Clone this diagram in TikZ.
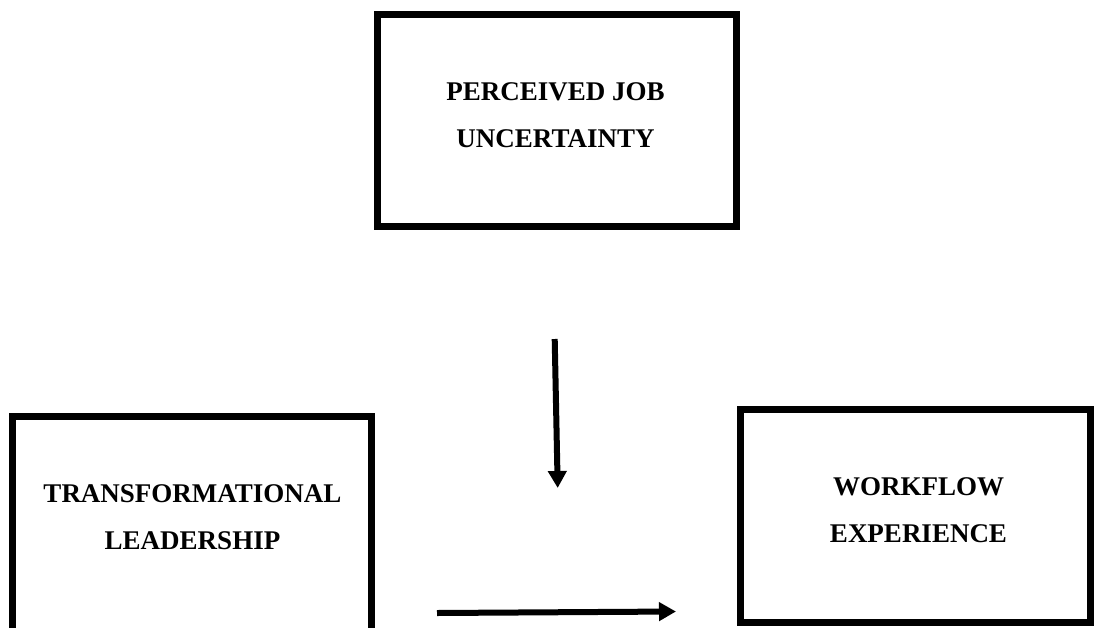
\documentclass[tikz,border=0pt]{standalone}
\usepackage{fontspec}
\setmainfont{Liberation Serif}
\usetikzlibrary{arrows.meta}
\tikzset{
  varbox/.style={draw=black, line width=7pt, fill=white, inner sep=0pt},
  lbl/.style={font=\fontsize{27}{47}\selectfont\bfseries, align=center, inner sep=0pt},
  conn/.style={line width=6pt, -{Triangle[width=18pt,length=17pt]}}
}
\begin{document}
\begin{tikzpicture}[x=1pt,y=-1pt]
\useasboundingbox (0,0) rectangle (1100,627);
\clip (0,0) rectangle (1100,627);
\fill[white] (0,0) rectangle (1100,627);
% boxes
\node[varbox, minimum width=359.5pt, minimum height=212pt] (pju) at (556.75,120.5) {};
\node[varbox, minimum width=359pt, minimum height=230pt] (tl) at (192,531) {};
\node[varbox, minimum width=349.5pt, minimum height=212.5pt] (we) at (915.25,515.75) {};
% labels
\node[lbl] (pjut) at (555.5,115.5) {PERCEIVED JOB\\UNCERTAINTY};
\node[lbl] (tlt) at (192.5,517.5) {TRANSFORMATIONAL\\LEADERSHIP};
\node[lbl] (wet) at (918.5,510.5) {WORKFLOW\\EXPERIENCE};
% connector ends
\coordinate (va) at (554.7,339);
\coordinate (vb) at (557.7,488);
\coordinate (ha) at (437,613);
\coordinate (hb) at (676,611.5);
\draw[conn] (va) -- (vb);
\draw[conn] (ha) -- (hb);
\end{tikzpicture}
\end{document}
